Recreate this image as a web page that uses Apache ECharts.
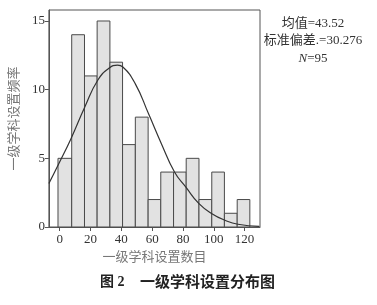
<!DOCTYPE html>
<html>
<head>
<meta charset="utf-8">
<script src="https://cdn.jsdelivr.net/npm/echarts@6/dist/echarts.min.js"></script>
<style>
  html, body { margin: 0; padding: 0; background: #fff; }
  #chart { width: 377px; height: 305px; }
</style>
</head>
<body>
<div id="chart"></div>
<script>
// bin edges and counts per bin
const binEdges = [-1.1, 7.8, 16.1, 24.3, 32.6, 40.8, 49.1, 57.4, 65.6, 73.9, 82.1, 90.4, 98.7, 106.9, 115.2, 123.4]
const counts = [5, 14, 11, 15, 12, 6, 8, 2, 4, 4, 5, 2, 4, 1, 2]

// fitted normal curve
const curveX = [-7, -0.6, 7.4, 16.3, 24.8, 32.2, 37.5, 41, 49, 57.6, 66, 74.5, 81.9, 90.4, 98.8, 107.3, 115.7, 129.5]
const curveY = [3.16, 4.6, 6.45, 8.74, 10.7, 11.58, 11.78, 11.65, 10.44, 8.26, 6.07, 4.0, 2.9, 1.7, 0.97, 0.49, 0.2, 0.05]

const xTicks = [0, 20, 40, 60, 80, 100, 120]
const yTicks = [0, 5, 10, 15]

const statLines = ['均值=43.52', '标准偏差.=30.276', '{i|N}=95']

const serif = 'Liberation Serif, DejaVu Serif, Noto Sans CJK SC'

const barData = counts.map((c, i) => [binEdges[i], binEdges[i + 1], c])

const chart = echarts.init(document.getElementById('chart'))
chart.setOption({
  animation: false,
  grid: {
    left: 45, right: 117, top: 10, bottom: 78,
    show: true, borderColor: '#555', borderWidth: 1
  },
  xAxis: {
    type: 'value',
    min: -7,
    max: 130,
    name: '一级学科设置数目',
    nameLocation: 'middle',
    nameGap: 22,
    nameTextStyle: { fontFamily: serif, fontSize: 13, color: '#777' },
    axisLine: { show: true, onZero: false, lineStyle: { color: '#555' } },
    axisTick: { show: true, length: 4, customValues: xTicks, lineStyle: { color: '#555' } },
    axisLabel: { customValues: xTicks, fontFamily: serif, fontSize: 13, color: '#333', margin: 6 },
    splitLine: { show: false }
  },
  yAxis: {
    type: 'value',
    min: 0,
    max: 15.8,
    name: '一级学科设置频率',
    nameLocation: 'middle',
    nameGap: 20,
    nameTextStyle: { fontFamily: serif, fontSize: 13, color: '#777' },
    axisLine: { show: true, onZero: false, lineStyle: { color: '#555' } },
    axisTick: { show: true, length: 4, customValues: yTicks, lineStyle: { color: '#555' } },
    axisLabel: { customValues: yTicks, fontFamily: serif, fontSize: 13, color: '#333', margin: 4 },
    splitLine: { show: false }
  },
  series: [
    {
      type: 'custom',
      data: barData,
      renderItem: (params, api) => {
        const p0 = api.coord([api.value(0), api.value(2)])
        const p1 = api.coord([api.value(1), 0])
        return {
          type: 'rect',
          shape: { x: p0[0], y: p0[1], width: p1[0] - p0[0], height: p1[1] - p0[1] },
          style: { fill: '#e2e2e2', stroke: '#4a4a4a', lineWidth: 1 }
        }
      },
      encode: { x: [0, 1], y: 2 }
    },
    {
      type: 'line',
      data: curveX.map((x, i) => [x, curveY[i]]),
      smooth: true,
      showSymbol: false,
      clip: true,
      lineStyle: { color: '#333', width: 1.2 },
      z: 5
    }
  ],
  graphic: [
    ...statLines.map((t, i) => ({
      type: 'text', x: 313, y: 17 + i * 17.5,
      style: {
        text: t, font: '13px ' + serif, fill: '#333', align: 'center', verticalAlign: 'top',
        rich: { i: { fontStyle: 'italic', fontFamily: serif, fontSize: 13, fill: '#333' } }
      }
    })),
    {
      type: 'text', left: 100, top: 275,
      style: { text: '图 2', font: 'bold 14px ' + serif, fill: '#222' }
    },
    {
      type: 'text', left: 140, top: 274,
      style: { text: '一级学科设置分布图', font: 'bold 15px Noto Sans CJK SC', fill: '#222' }
    }
  ]
})
</script>
</body>
</html>
